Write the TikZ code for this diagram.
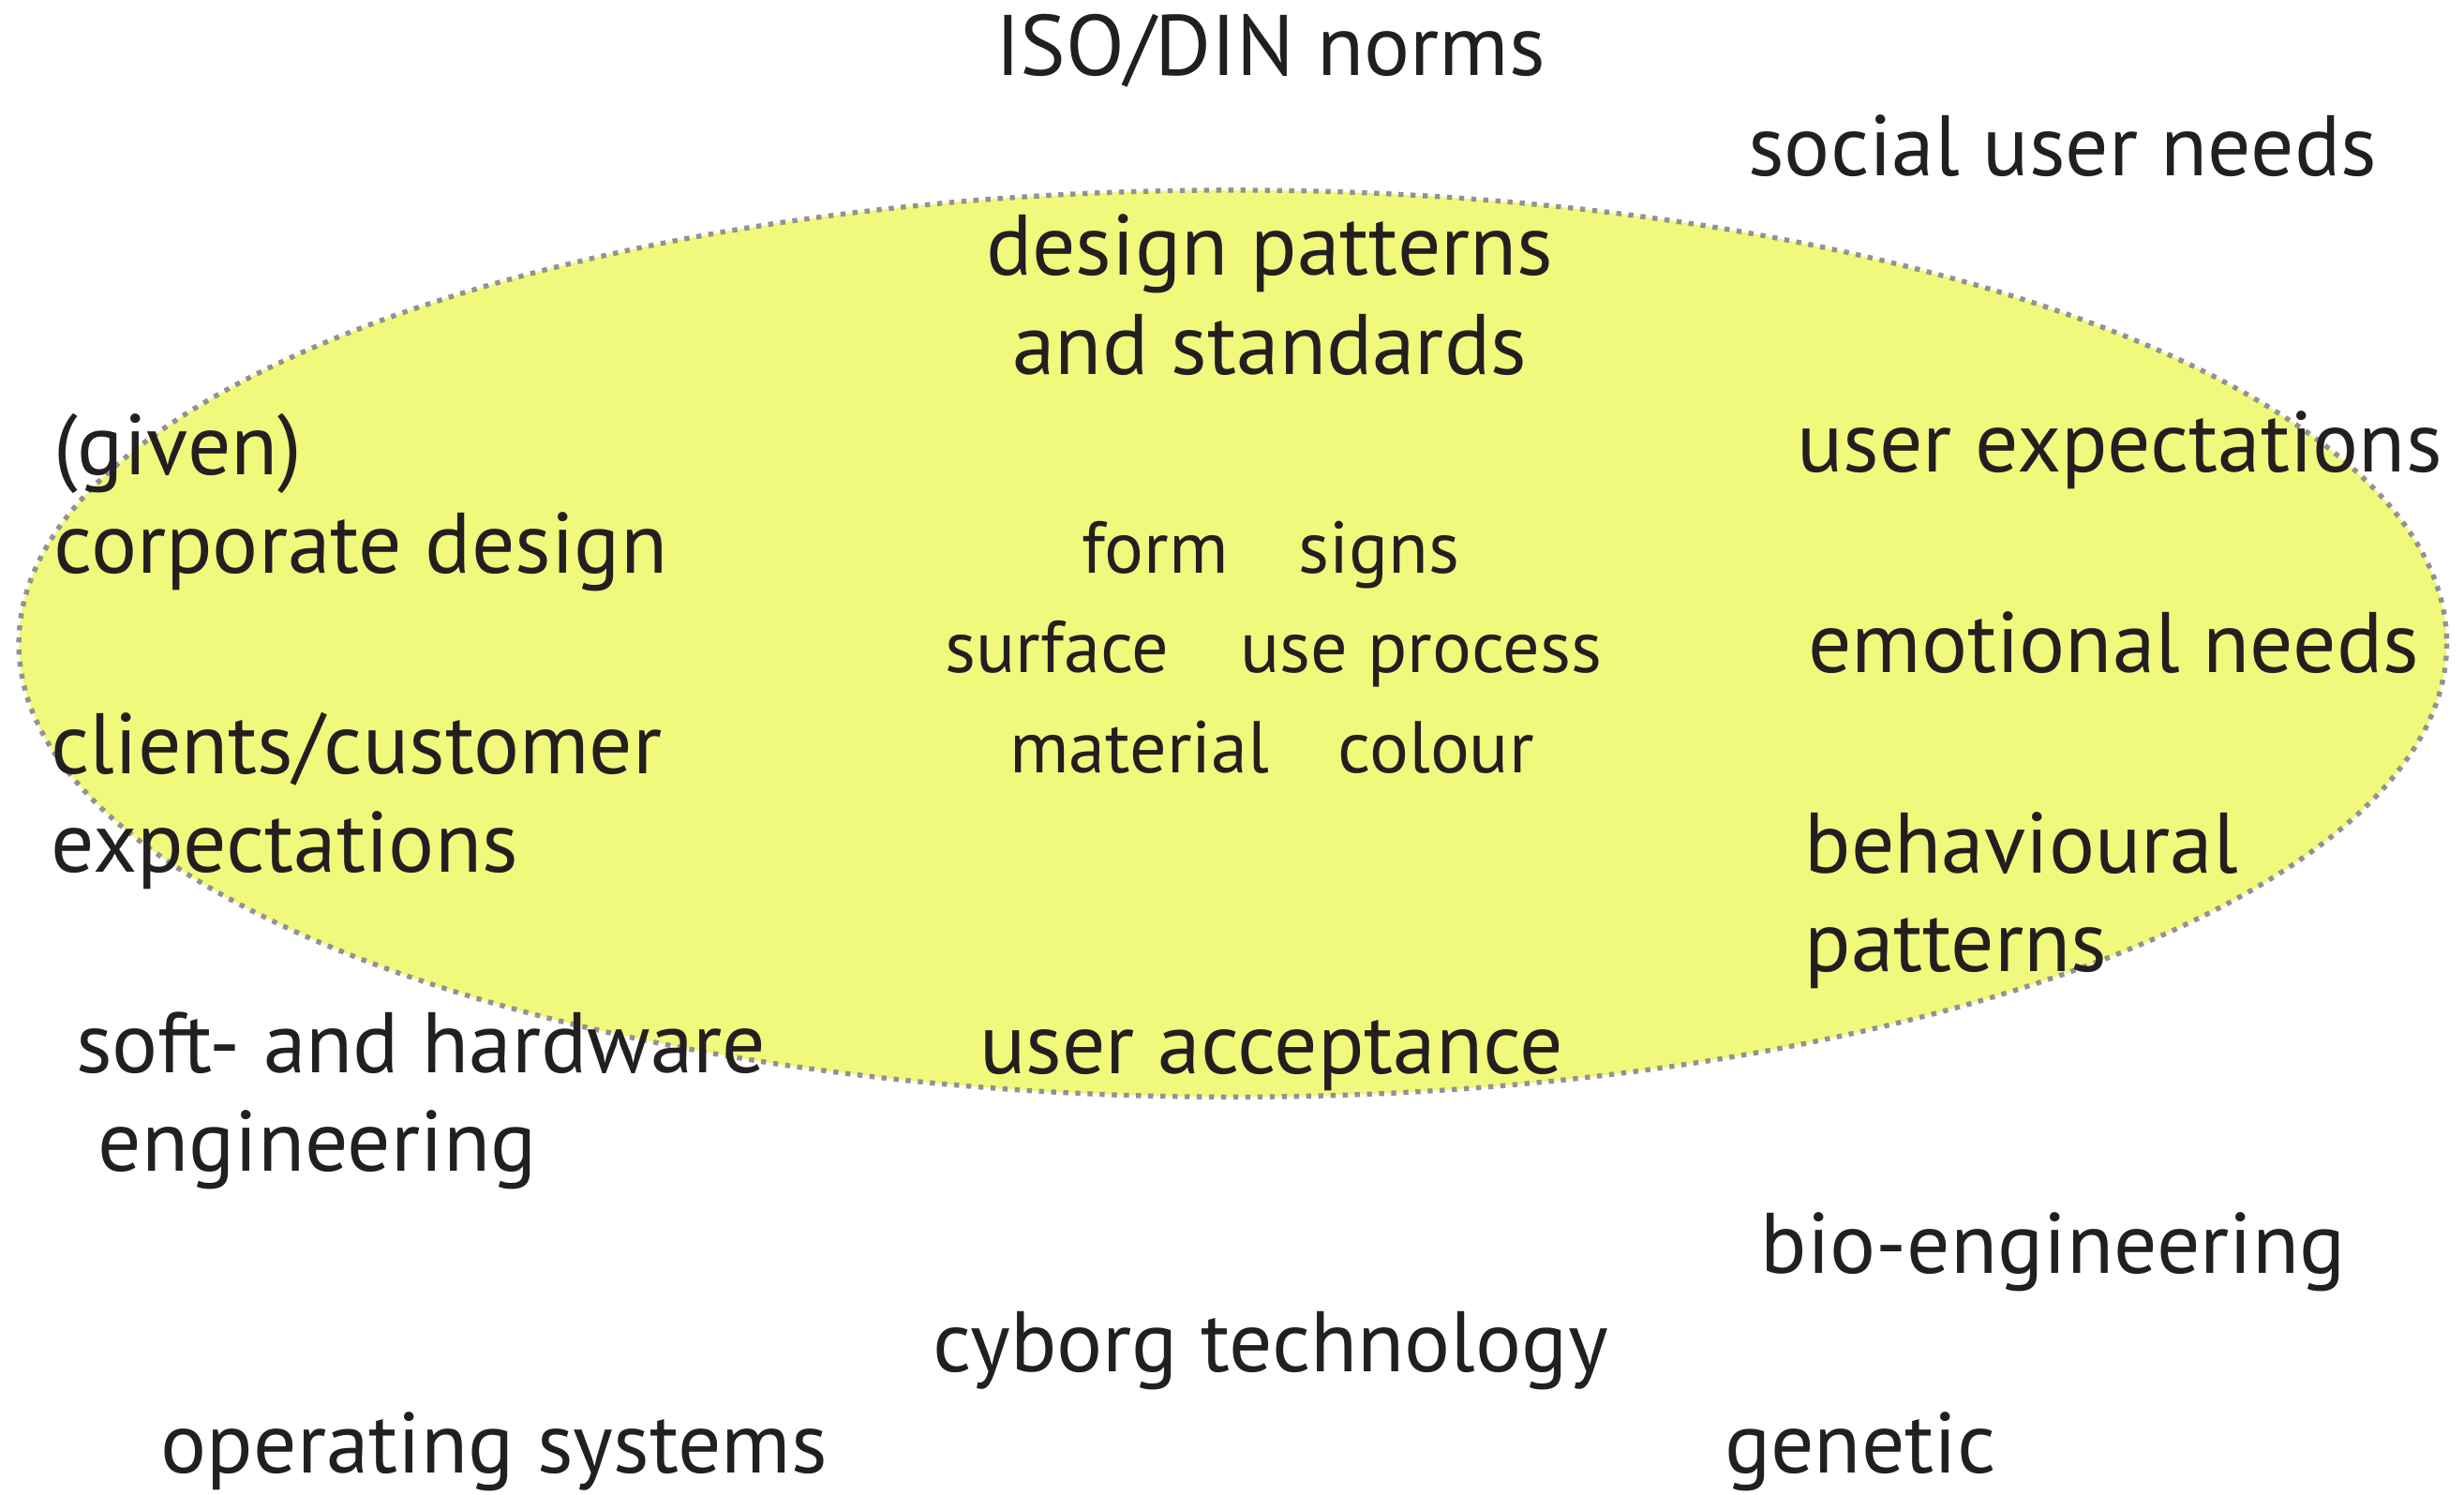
\documentclass[tikz,border=0pt]{standalone}
\usepackage{fontspec}
\setmainfont{PT Sans}
\definecolor{ellfill}{RGB}{240,249,124}
\definecolor{elldot}{RGB}{145,145,150}
\definecolor{txt}{RGB}{35,31,32}
\tikzset{every picture/.style={line width=0.75pt}}
\tikzset{
  bigtext/.style={anchor=base west, inner sep=0pt, text=txt, align=left, font=\fontsize{41}{47}\selectfont},
  smalltext/.style={anchor=base west, inner sep=0pt, text=txt, font=\fontsize{35}{40}\selectfont}
}
\begin{document}
\begin{tikzpicture}[x=0.75pt,y=0.75pt,yscale=-1,xscale=1]
	\useasboundingbox (0,0) rectangle (1568,951);

	%Shape: Ellipse [id:field]
	\draw [color=elldot, fill=ellfill, line width=2.4pt, dash pattern=on 2.4pt off 3.4pt] (784.5,409.5) ellipse [x radius=772.5, y radius=288.5];

	% Text Node
	\node [bigtext] (iso) at (633,48) {ISO/DIN norms};
	% Text Node
	\node [bigtext] (social) at (1112,112) {social user needs};
	% Text Node
	\node [bigtext, align=center, anchor=base] (patterns) at (808,238) {design patterns\\and standards};
	% Text Node
	\node [bigtext] (corporate) at (34,365) {(given)\\corporate design};
	% Text Node
	\node [bigtext] (userexp) at (1143,300) {user expectations};
	% Text Node
	\node [bigtext] (emotional) at (1150,428) {emotional needs};
	% Text Node
	\node [bigtext] (clients) at (32,555) {clients/customer\\expectations};
	% Text Node
	\node [bigtext] (behaviour) at (1148,618) {behavioural\\patterns};
	% Text Node
	\node [bigtext] (hardware) at (48,745) {soft- and hardware\\\hspace*{10.5pt}engineering};
	% Text Node
	\node [bigtext] (acceptance) at (623,683) {user acceptance};
	% Text Node
	\node [bigtext] (bio) at (1120,810) {bio-engineering};
	% Text Node
	\node [bigtext] (cyborg) at (593,873) {cyborg technology};
	% Text Node
	\node [bigtext] (os) at (102,937) {operating systems};
	% Text Node
	\node [bigtext] (genetic) at (1097,937) {genetic};

	% Text Node
	\node [smalltext] (form) at (688,365) {form};
	% Text Node
	\node [smalltext] (signs) at (826,365) {signs};
	% Text Node
	\node [smalltext] (surface) at (601,428) {surface};
	% Text Node
	\node [smalltext] (process) at (789,428) {use process};
	% Text Node
	\node [smalltext] (material) at (642,492) {material};
	% Text Node
	\node [smalltext] (colour) at (851,492) {colour};

\end{tikzpicture}
\end{document}
